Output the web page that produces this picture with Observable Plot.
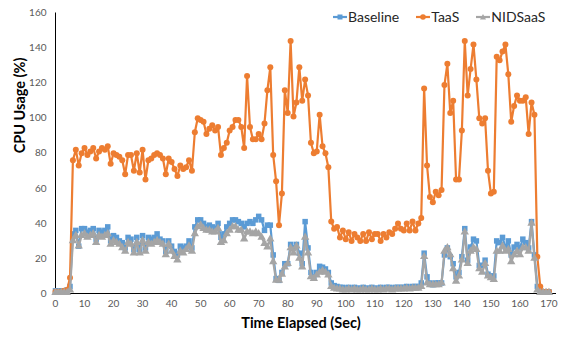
<!DOCTYPE html>
<html>
<head>
<meta charset="utf-8">
<script src="https://cdn.jsdelivr.net/npm/d3@7"></script>
<script src="https://cdn.jsdelivr.net/npm/@observablehq/plot@0.6"></script>
<style>
  body { margin: 0; background: #fff; }
  #wrap { position: relative; width: 561px; height: 337px; font-family: Lato, "Open Sans", sans-serif; }
  #legend { position: absolute; left: 333px; top: 8px; display: flex; align-items: center; font-size: 14px; color: #262626; }
  #legend .item { display: flex; align-items: center; margin-right: 17px; }
  #legend svg { margin-right: 1px; }
</style>
</head>
<body>
<div id="wrap">
  <div id="legend"></div>
</div>
<script>
// Time axis: one sample per second
const seconds = d3.range(0, 171);
const xTicks = d3.range(0, 171, 10);
const yTicks = d3.range(0, 161, 20);
const seriesNames = ["Baseline", "TaaS", "NIDSaaS"];
const seriesColors = ["#5B9BD5", "#ED7D31", "#A5A5A5"];
const seriesSymbols = ["square", "circle", "triangle"];

const baseline = [
  1.5,1.5,1.5,1.5,2,4,34,36,27,37,
  37,35,36,37,31,36,35,36,38,30,
  33,32,30,29,26,32,31,25,32,25,
  33,26,32,31,32,34,31,30,24,30,
  27,24,22,27,26,27,30,26,38,42,
  42,40,38,39,38,37,40,32,34,38,
  40,42,42,41,40,38,40,41,40,42,
  44,42,36,39,39,22,8.5,7.5,12,17,
  17,28,26,28,23,17,41,26,12,9.5,
  12,15.5,15,14,12,6,4.5,4,3.5,3.5,
  3,3.5,3,3.5,3,3,3.5,3,3,3.5,
  3,3,3.5,3,3.5,3.5,3,3.5,3.5,3.5,
  3.5,4,3.5,4,4,4,6,23,9.5,6,
  5,6,6,6,22,26,21,17,9.5,12,
  21,37,19,26.5,31,30,16,16,19,11,
  10,10,30,29,32,26.5,30,22,26.5,28,
  26,31,29,26,41,22,4,1,1,1,
  1
];

const taas = [
  1,1,1,1.5,2,9,76,82,73,80,
  83,79,81,83,77,81,83,82,84,74,
  80,79,78,76,68,79,79,70,80,69,
  82,65,76,77,79,80,79,77,68,77,
  75,71,67,73,71,72,76,70,92,100,
  99,98,91,94,96,93,95,79,83,86,
  93,95,99,99,95,83,124,95,88,88,
  91,88,97,116,129,79,64,39,57,116,
  103,144,101,109,129,110,122,113,86,80,
  81,102,84,80,72,41,37,38,32,36,
  31,35,30,34,32,30,34,30,35,31,
  34,34,30,34,32,35,34,37,40,37,
  36,40,36,41,36,40,43,117,73,55,
  52,58,56,59,119,131,103,110,65,65,
  93,144,113,128,142,122,100,97,100,70,
  57,58,135,133,138,142,125,98,107,113,
  110,110,112,91,109,102,21,4,1,1,
  1
];

const nidsaas = [
  0.5,0.5,0.5,0.5,0.5,2,30,33,27,33,
  34,32,33,34,29,33,32,33,34,28,
  30,29,28,26,24,29,28,23,29,23,
  30,24,29,28,29,30,29,28,22,28,
  24,21,19,24,23,25,27,24,34,38,
  39,37,36,36,35,35,37,29,30,34,
  36,38,38,36,36,31,35,35,34,35,
  34,32,28.5,26.5,31,18,7.5,7.5,11,15,
  17,26,23,27,20,15,32,23,9.5,8.5,
  10.5,12,13,12,10.5,4,3,2.5,2.5,2,
  2,2.5,2,2.5,2,2,2.5,2,2,2.5,
  2,2,2.5,2,2.5,2.5,2,2.5,2.5,2.5,
  2.5,3,2.5,3,3,3,4,21,6,5,
  5,5,5,6,24,26,22,14,7,10,
  19,35,17,24,26,25,14,12,17,10,
  9,8,24,24,27,24,25,18,22,24,
  22,26,26,24,40,20,2,0.5,0.5,0.5,
  0.5
];

const seriesValues = [baseline, taas, nidsaas];
const rows = seriesNames.map((name, i) =>
  seconds.map((t, j) => ({t, v: seriesValues[i][j], series: name}))
);

const marks = [
  Plot.ruleY([0], {stroke: "#000", strokeWidth: 1}),
  Plot.ruleX([0], {stroke: "#000", strokeWidth: 1}),
  Plot.axisX({ticks: xTicks, tickSize: 0, tickPadding: 6, label: null, fontSize: 10, fill: "#595959"}),
  Plot.axisY({ticks: yTicks, tickSize: 0, tickPadding: 9, label: null, fontSize: 10, fill: "#595959"})
];
rows.forEach((data, i) => {
  marks.push(Plot.line(data, {x: "t", y: "v", stroke: seriesColors[i], strokeWidth: 2.2, strokeLinejoin: "round"}));
  marks.push(Plot.dot(data, {x: "t", y: "v", symbol: seriesSymbols[i], fill: seriesColors[i], stroke: "none", r: i === 1 ? 3 : 3.1}));
});
marks.push(Plot.text(["Time Elapsed (Sec)"], {frameAnchor: "bottom", dx: -5, dy: 30, lineAnchor: "middle", fontSize: 14.5, fontWeight: "bold", fill: "#000"}));
marks.push(Plot.text(["CPU Usage (%)"], {frameAnchor: "left", dx: -35, rotate: -90, lineAnchor: "middle", fontSize: 14.5, fontWeight: "bold", fill: "#000"}));

const chart = Plot.plot({
  width: 561,
  height: 337,
  marginLeft: 55,
  marginRight: 5,
  marginTop: 12.5,
  marginBottom: 44,
  style: {fontFamily: "Lato, 'Open Sans', sans-serif", background: "#fff", overflow: "visible"},
  x: {domain: [0, 172.6], axis: null},
  y: {domain: [0, 160], axis: null},
  marks
});
document.getElementById("wrap").appendChild(chart);

// Legend (HTML)
const legend = document.getElementById("legend");
seriesNames.forEach((name, i) => {
  const item = document.createElement("div");
  item.className = "item";
  const sym = seriesSymbols[i];
  let shape = "";
  if (sym === "square") shape = `<rect x="4.5" y="2.5" width="5" height="5" fill="${seriesColors[i]}"/>`;
  else if (sym === "circle") shape = `<circle cx="7" cy="5" r="2.8" fill="${seriesColors[i]}"/>`;
  else shape = `<path d="M7,2 L10,7.5 L4,7.5 Z" fill="${seriesColors[i]}"/>`;
  item.innerHTML = `<svg width="14" height="10"><line x1="0" y1="5" x2="14" y2="5" stroke="${seriesColors[i]}" stroke-width="2.2"/>${shape}</svg><span>${name}</span>`;
  legend.appendChild(item);
});
</script>
</body>
</html>
